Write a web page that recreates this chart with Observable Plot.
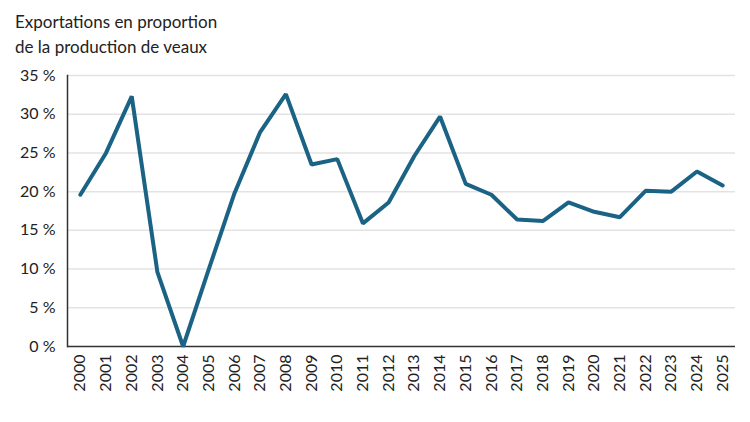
<!DOCTYPE html>
<html><head><meta charset="utf-8">
<script src="https://cdn.jsdelivr.net/npm/d3@7"></script>
<script src="https://cdn.jsdelivr.net/npm/@observablehq/plot@0.6"></script>
<style>
body{margin:0;background:#fff;font-family:Lato,"Open Sans",sans-serif;}
#title{position:absolute;left:15px;top:9px;font-size:17px;line-height:25px;color:#222;}
#chart{position:absolute;left:0;top:62px;}
</style></head>
<body>
<div id="title">Exportations en proportion<br>de la production de veaux</div>
<div id="chart"></div>
<script>
const years = ["2000","2001","2002","2003","2004","2005","2006","2007","2008","2009","2010","2011","2012","2013","2014","2015","2016","2017","2018","2019","2020","2021","2022","2023","2024","2025"];
const values = [19.6,25.0,32.3,9.6,0.0,10.0,19.8,27.7,32.6,23.5,24.2,15.9,18.6,24.6,29.7,21.0,19.6,16.4,16.2,18.6,17.4,16.7,20.1,20.0,22.6,20.8];
const yTicks = [0,5,10,15,20,25,30,35];
const data = years.map((y,i)=>({year:y, value:values[i]}));
const chart = Plot.plot({
  width:750, height:360,
  marginTop:13, marginBottom:76, marginLeft:67, marginRight:15,
  style:{fontFamily:"Lato, 'Open Sans', sans-serif", fontSize:"16px", color:"#222"},
  x:{type:"point", domain:years, padding:0.5, round:false, label:null, tickSize:0, tickRotate:-90, tickPadding:8},
  y:{domain:[0,35], ticks:yTicks, label:null, tickSize:0, tickPadding:12, tickFormat:d=>d+" %"},
  marks:[
    Plot.gridY(yTicks.filter(d=>d>0),{stroke:"#e3e3e3", strokeOpacity:1, strokeWidth:1.5}),
    Plot.ruleY([0],{stroke:"#333", strokeWidth:1.5}),
    Plot.frame({anchor:"left", stroke:"#333", strokeWidth:1.5}),
    Plot.line(data,{x:"year", y:"value", stroke:"#1a6384", strokeWidth:4, strokeLinejoin:"miter"})
  ]
});
document.getElementById("chart").appendChild(chart);
</script>
</body></html>
